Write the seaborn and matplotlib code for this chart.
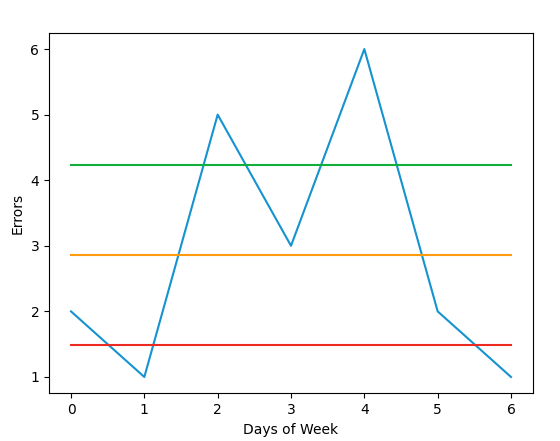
import matplotlib
matplotlib.use("Agg")
import matplotlib.pyplot as plt
import seaborn as sns
import pandas as pd

days = [0, 1, 2, 3, 4, 5, 6]
errors = [2, 1, 5, 3, 6, 2, 1]
upper_value = 4.23
mean_value = 2.857
lower_value = 1.49

df = pd.DataFrame({"Days of Week": days, "Errors": errors})
ref = pd.DataFrame({
    "Days of Week": days * 3,
    "value": [upper_value] * 7 + [mean_value] * 7 + [lower_value] * 7,
    "kind": ["upper"] * 7 + ["mean"] * 7 + ["lower"] * 7,
})

fig = plt.figure(figsize=(5.6, 4.41), dpi=100)
ax = fig.add_axes([0.0875, 0.108, 0.8643, 0.818])

sns.lineplot(data=df, x="Days of Week", y="Errors", ax=ax, color="#1592d0", linewidth=1.5)
colors = {"upper": "#12b03a", "mean": "#ff9a0e", "lower": "#ec2a22"}
for k in ["upper", "mean", "lower"]:
    sub = ref[ref["kind"] == k]
    sns.lineplot(data=sub, x="Days of Week", y="value", ax=ax, color=colors[k], linewidth=1.5)

ax.set_xlabel("Days of Week")
ax.set_ylabel("Errors")
ax.set_xlim(-0.3, 6.3)
ax.set_ylim(0.75, 6.25)
ax.set_xticks(days)
ax.set_yticks([1, 2, 3, 4, 5, 6])

fig.savefig("out.png", dpi=100)
